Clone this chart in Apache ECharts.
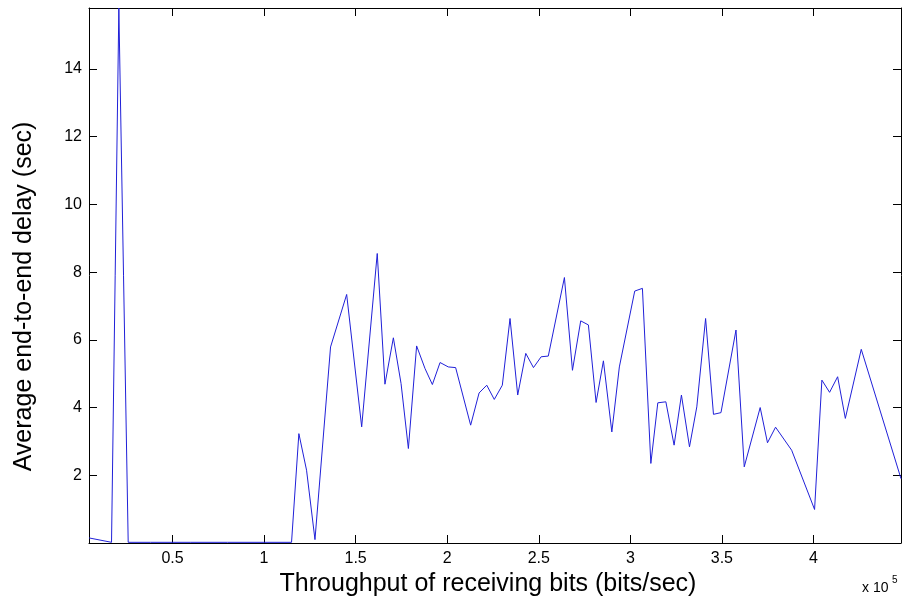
<!DOCTYPE html>
<html>
<head>
<meta charset="utf-8">
<script src="https://cdn.jsdelivr.net/npm/echarts@6/dist/echarts.min.js"></script>
<style>
  html, body { margin: 0; padding: 0; background: #fff; }
  #chart { width: 904px; height: 603px; }
</style>
</head>
<body>
<div id="chart"></div>
<script>
// throughput of receiving bits (bits/sec)
const throughput = [
  4400, 16700, 20700, 25800, 38000, 60000, 80000, 100000, 115000, 119000,
  123200, 127800, 136300, 145100, 153300, 161800, 166000, 170600, 174800, 178800,
  183300, 187900, 191900, 196100, 200600, 204600, 212800, 217400, 221600, 225700,
  230100, 234300, 238500, 242900, 247100, 251300, 255200, 264000, 268400, 272900,
  277100, 281300, 285300, 289900, 294000, 302400, 306600, 311200, 315000, 319400,
  323900, 327900, 332300, 336300, 341100, 345400, 349500, 357700, 362200, 370900,
  374900, 379300, 388100, 400600, 404600, 408800, 413200, 417400, 426100, 447800
];
// average end-to-end delay (sec)
const delay = [
  0.15, 0.02, 15.8, 0.02, 0.02, 0.02, 0.02, 0.02, 0.02, 3.23,
  2.15, 0.1, 5.79, 7.34, 3.43, 8.55, 4.69, 6.06, 4.71, 2.79,
  5.82, 5.15, 4.68, 5.33, 5.20, 5.18, 3.48, 4.43, 4.66, 4.24,
  4.66, 6.63, 4.37, 5.60, 5.18, 5.50, 5.52, 7.84, 5.10, 6.56,
  6.44, 4.15, 5.38, 3.28, 5.20, 7.44, 7.52, 2.35, 4.14, 4.17,
  2.89, 4.37, 2.84, 4.02, 6.63, 3.80, 3.85, 6.29, 2.25, 4.00,
  2.96, 3.42, 2.74, 0.99, 4.81, 4.45, 4.91, 3.68, 5.72, 1.90
];
const xTicks = [50000, 100000, 150000, 200000, 250000, 300000, 350000, 400000];
const yTicks = [2, 4, 6, 8, 10, 12, 14];

const xMin = 4400, xMax = 447800, yMin = 0, yMax = 15.8;
const font = "'Liberation Sans', Arial, sans-serif";

const chart = echarts.init(document.getElementById("chart"));

const axisLine = { show: true, onZero: false, lineStyle: { color: "#000", width: 1 } };

const xBase = {
  type: "value", min: xMin, max: xMax,
  axisLine: axisLine,
  splitLine: { show: false },
};
const yBase = {
  type: "value", min: yMin, max: yMax,
  axisLine: axisLine,
  splitLine: { show: false },
};

chart.setOption({
  animation: false,
  backgroundColor: "#fff",
  grid: { left: 89, right: 3, top: 8, bottom: 60 },
  xAxis: [
    Object.assign({}, xBase, {
      position: "bottom",
      axisTick: { inside: true, length: 8, customValues: xTicks, lineStyle: { color: "#000" } },
      axisLabel: {
        customValues: xTicks, margin: 8, color: "#000", fontSize: 16, fontFamily: font,
        formatter: (v) => String(v / 1e5),
      },
      name: "Throughput of receiving bits (bits/sec)",
      nameLocation: "middle", nameGap: 23,
      nameTextStyle: { color: "#000", fontSize: 25, fontFamily: font, padding: [0, 14, 0, 0] },
    }),
    Object.assign({}, xBase, {
      position: "top",
      axisTick: { inside: true, length: 8, customValues: xTicks, lineStyle: { color: "#000" } },
      axisLabel: { show: false },
    }),
  ],
  yAxis: [
    Object.assign({}, yBase, {
      position: "left",
      axisTick: { inside: true, length: 8, customValues: yTicks, lineStyle: { color: "#000" } },
      axisLabel: { customValues: yTicks, margin: 7, color: "#000", fontSize: 16, fontFamily: font },
      name: "Average end-to-end delay (sec)",
      nameLocation: "middle", nameGap: 52, nameRotate: 90,
      nameTextStyle: { color: "#000", fontSize: 25, fontFamily: font, padding: [0, 42, 0, 0] },
    }),
    Object.assign({}, yBase, {
      position: "right",
      axisTick: { inside: true, length: 8, customValues: yTicks, lineStyle: { color: "#000" } },
      axisLabel: { show: false },
    }),
  ],
  graphic: [
    { type: "text", left: 862, top: 581,
      style: { text: "x 10", fill: "#000", fontSize: 14, fontFamily: font } },
    { type: "text", left: 892, top: 575,
      style: { text: "5", fill: "#000", fontSize: 10, fontFamily: font } },
  ],
  series: [
    {
      type: "line",
      data: throughput.map((t, i) => [t, delay[i]]),
      showSymbol: false,
      clip: true,
      lineStyle: { color: "#2020d8", width: 1 },
    },
  ],
});
</script>
</body>
</html>
